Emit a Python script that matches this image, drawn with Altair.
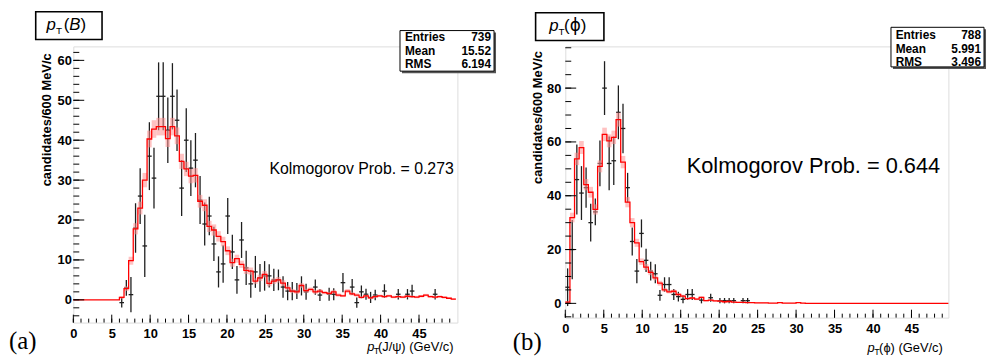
import altair as alt
import pandas as pd

FONT = "Liberation Sans"
BIN_W = 0.6

# ---------------- panel (a): pT(B) ----------------
A_MC = [0, 0, 0, 0, 0, 0, 0, 0, 0, 0,
        0.6, 2.8, 9.8, 17.8, 23.0, 30.0, 40.3, 42.8, 43.4, 43.4,
        40.4, 43.4, 41.1, 34.7, 32.8, 31.0, 31.2, 24.7, 23.7, 18.4,
        17.5, 15.9, 14.6, 12.3, 9.3, 10.3, 8.9, 7.4, 7.2, 4.7,
        5.5, 6.4, 4.1, 4.7, 5.0, 4.2, 3.0, 2.2, 2.0, 3.6,
        2.3, 2.6, 2.0, 2.2, 1.8, 1.6, 2.0, 1.2, 1.0, 2.2,
        1.5, 1.2, 0.6, 1.0, 0.5, 0.8, 1.0, 0.8, 1.0, 0.7,
        0.8, 0.7, 0.9, 0.8, 0.7, 0.9, 1.2, 0.8, 0.7, 0.8,
        0.6, 0.4, 0.2]
A_MC_ERR = [0, 0, 0, 0, 0, 0, 0, 0, 0, 0,
            0.3, 0.6, 1.0, 1.4, 1.6, 1.8, 2.1, 2.2, 2.2, 2.2,
            2.1, 2.2, 2.1, 1.9, 1.8, 1.8, 1.8, 1.6, 1.5, 1.4,
            1.4, 1.3, 1.2, 1.1, 1.0, 1.0, 0.9, 0.9, 0.9, 0.7,
            0.8, 0.8, 0.7, 0.7, 0.7, 0.7, 0.6, 0.5, 0.5, 0.6,
            0.5, 0.5, 0.5, 0.5, 0.4, 0.4, 0.5, 0.4, 0.3, 0.5,
            0.4, 0.4, 0.3, 0.3, 0.3, 0.3, 0.3, 0.3, 0.3, 0.3,
            0.3, 0.3, 0.3, 0.3, 0.3, 0.3, 0.3, 0.3, 0.3, 0.3,
            0.3, 0.2, 0.2]
A_X = [6.3, 6.9, 7.5, 8.1, 8.7, 9.3, 9.9, 10.5, 11.1, 11.7,
       12.3, 12.9, 13.5, 14.1, 14.7, 15.3, 15.9, 16.5, 17.1, 17.7,
       18.3, 18.9, 19.5, 20.1, 20.7, 21.3, 21.9, 22.5, 23.1, 23.7,
       24.3, 24.9, 25.5, 26.1, 26.7, 27.3, 27.9, 28.5, 29.1, 29.7,
       30.3, 31.5, 32.1, 33.3, 33.9, 35.1, 36.3, 36.9, 37.5, 38.1,
       38.7, 39.3, 40.5, 42.3, 43.5, 44.1, 47.1]
A_Y = [-0.7, 3.0, 1.3, 18, 26, 13.5, 36, 30.5, 51, 51,
       42.5, 51, 45, 28, 40, 33, 35, 25, 19, 21,
       14, 7, 9, 21, 12, 5, 15, 8, 4, 7,
       5.5, 6, 6, 5, 5, 3.2, 2.2, 2.2, 2.2, 3.5,
       2.0, 3.2, 1.2, 1.4, 1.4, 4.3, 3.2, -0.7, 2.0, 1.4,
       0.6, 1.2, 2.2, 1.4, 1.4, 2.2, 1.4]
A_ERR = [1.2, 2.0, 4.4, 6.2, 7.0, 7.8, 8.5, 7.6, 8.5, 8.5,
         8.2, 8.3, 7.7, 7.0, 8.0, 7.0, 6.8, 6.0, 5.4, 4.8,
         4.3, 3.9, 4.7, 4.5, 4.3, 3.5, 4.5, 4.3, 3.5, 4.0,
         3.5, 3.7, 2.9, 2.8, 2.6, 2.7, 2.3, 2.3, 2.0, 2.4,
         2.0, 1.9, 1.5, 1.6, 1.5, 2.4, 2.0, 1.3, 1.6, 1.4,
         1.4, 1.3, 1.7, 1.3, 1.3, 1.6, 1.3]
A_STATS = [("Entries", "739"), ("Mean", "15.52"), ("RMS", "6.194")]
A_KS = "Kolmogorov Prob. = 0.273"

# ---------------- panel (b): pT(phi) ----------------
B_MC = [0.5, 31.9, 53.7, 57.9, 44.1, 41.3, 34.9, 50.9, 62.8, 60.4,
        61.7, 68.3, 52.5, 37.6, 30.0, 22.5, 15.5, 13.5, 11.5, 9.5,
        7.5, 5.0, 4.3, 4.5, 3.3, 2.7, 1.8, 2.0, 1.6, 2.2,
        1.0, 1.2, 0.9, 0.8, 0.6, 0.7, 0.5, 0.4, 0.4, 0.3,
        0.3, 0.2, 0.2, 0.2, 0.1, 0.1, 0.3, 0.1, 0.1, 0.1,
        0.3, 0.1, 0, 0, 0, 0, 0, 0, 0, 0,
        0, 0, 0, 0, 0, 0, 0, 0, 0, 0,
        0, 0, 0, 0, 0, 0, 0, 0, 0, 0,
        0, 0, 0]
B_MC_ERR = [0.3, 1.8, 2.3, 2.4, 2.1, 2.0, 1.9, 2.2, 2.5, 2.4,
            2.5, 2.6, 2.3, 1.9, 1.7, 1.5, 1.2, 1.1, 1.0, 0.9,
            0.9, 0.7, 0.6, 0.6, 0.5, 0.5, 0.4, 0.4, 0.4, 0.4,
            0.3, 0.3, 0.3, 0.3, 0.3, 0.3, 0.2, 0.2, 0.2, 0.2,
            0.2, 0.2, 0.2, 0.2, 0.1, 0.1, 0.2, 0.1, 0.1, 0.1,
            0.2, 0.1, 0, 0, 0, 0, 0, 0, 0, 0,
            0, 0, 0, 0, 0, 0, 0, 0, 0, 0,
            0, 0, 0, 0, 0, 0, 0, 0, 0, 0,
            0, 0, 0]
B_X = [0.3, 0.9, 1.5, 2.1, 2.7, 3.3, 3.9, 4.5, 5.1, 5.7,
       6.3, 6.9, 7.5, 8.1, 8.7, 9.3, 9.9, 10.5, 11.1, 11.7,
       12.3, 12.9, 13.5, 14.1, 14.7, 15.3, 15.9, 16.5, 17.7, 18.9,
       20.1, 20.7, 21.3, 21.9, 23.1, 23.7]
B_Y = [6, 20, 46, 41, 43, 30, 34, 52, 80, 52,
       53, 71, 65, 43, 23, 12, 26, 16, 12, 11,
       3, 7, 7, 3.3, 2.5, 1.5, 3.3, 3.3, 1.2, 2.1,
       1, 1, 1, 1, 1, 1]
B_ERR = [7, 11, 13, 10, 7.5, 7, 5, 8.5, 10, 10,
         9, 10, 9.2, 5.5, 5.2, 4.5, 5.2, 4.3, 3.5, 3.5,
         2, 2.7, 2.7, 2, 1.8, 1.5, 2, 2, 1.2, 1.5,
         1, 1, 1, 1, 1, 1]
B_STATS = [("Entries", "788"), ("Mean", "5.991"), ("RMS", "3.496")]
B_KS = "Kolmogorov Prob. = 0.644"

# ---------------- axis tick values ----------------
X_MAJOR = [0, 5, 10, 15, 20, 25, 30, 35, 40, 45]
X_MINOR = list(range(0, 50))
A_Y_MAJOR = [0, 10, 20, 30, 40, 50, 60]
A_Y_MINOR = list(range(-4, 63, 2))
B_Y_MAJOR = [0, 20, 40, 60, 80]
B_Y_MINOR = list(range(-5, 96, 5))

ONE = alt.Data(values=[{"k": 0}])


def txt(t, x, y, size, align="left", baseline="alphabetic", font=FONT, **kw):
    return alt.Chart(ONE).mark_text(text=t, fontSize=size, font=font, align=align,
                                    baseline=baseline, color="black", **kw).encode(
        x=alt.value(x), y=alt.value(y))


def box(x1, x2, y1, y2, fill, stroke=None, sw=1):
    kw = dict(fill=fill)
    if stroke:
        kw.update(stroke=stroke, strokeWidth=sw)
    return alt.Chart(ONE).mark_rect(**kw).encode(
        x=alt.value(x1), x2=alt.value(x2), y=alt.value(y1), y2=alt.value(y2))


def panel(mc, mc_err, px, py, perr, xmax, ydom, W, H, ymaj, ymin, ylab_pad, annots):
    xs = alt.Scale(domain=[0, xmax], nice=False, zero=False)
    ys = alt.Scale(domain=ydom, nice=False, zero=False)
    xax = alt.Axis(values=X_MAJOR, ticks=False, tickSize=0, domain=False, grid=False,
                   title=None, labelPadding=5, labelFont=FONT, labelFontSize=13,
                   labelFontWeight="bold", labelColor="black", labelFlush=False, format="d")
    yax = alt.Axis(values=ymaj, ticks=False, tickSize=0, domain=False, grid=False,
                   title=None, labelPadding=ylab_pad, labelFont=FONT, labelFontSize=13,
                   labelFontWeight="bold", labelColor="black", labelFlush=False, format="d")

    def X(f):
        return alt.X(f + ":Q", scale=xs, axis=xax)

    def Y(f):
        return alt.Y(f + ":Q", scale=ys, axis=yax)

    n = len(mc)
    lo = [round(k * BIN_W, 4) for k in range(n)]
    hi = [round((k + 1) * BIN_W, 4) for k in range(n)]
    band = pd.DataFrame({"lo": lo, "hi": hi,
                         "a": [v - e for v, e in zip(mc, mc_err)],
                         "b": [v + e for v, e in zip(mc, mc_err)],
                         "e": mc_err})
    band = band[band.e > 0]
    step = pd.DataFrame({"x": lo + [hi[-1]], "y": list(mc) + [mc[-1]]})
    pts = pd.DataFrame({"x": px, "y": py,
                        "lo": [x - BIN_W / 2 for x in px],
                        "hi": [x + BIN_W / 2 for x in px],
                        "a": [y - e for y, e in zip(py, perr)],
                        "b": [y + e for y, e in zip(py, perr)]})

    layers = [
        alt.Chart(pts).mark_rule(color="#1e1e1e", strokeWidth=1.3).encode(
            x=X("x"), y=Y("a"), y2="b"),
        alt.Chart(pts).mark_rule(color="#1e1e1e", strokeWidth=1.3).encode(
            x=X("lo"), x2="hi", y=Y("y")),
        alt.Chart(band).mark_rect(color="#ff8f8f", opacity=0.55).encode(
            x=X("lo"), x2="hi", y=Y("a"), y2="b"),
        alt.Chart(step).mark_line(color="#ff0000", strokeWidth=1.3,
                                  interpolate="step-after").encode(x=X("x"), y=Y("y")),
        alt.Chart(pd.DataFrame({"v": X_MINOR})).mark_rule(color="black", strokeWidth=1).encode(
            x=X("v"), y=alt.value(H), y2=alt.value(H - 4)),
        alt.Chart(pd.DataFrame({"v": X_MAJOR})).mark_rule(color="black", strokeWidth=1).encode(
            x=X("v"), y=alt.value(H), y2=alt.value(H - 8)),
        alt.Chart(pd.DataFrame({"v": ymin})).mark_rule(color="black", strokeWidth=1).encode(
            y=Y("v"), x=alt.value(0), x2=alt.value(6)),
        alt.Chart(pd.DataFrame({"v": ymaj})).mark_rule(color="black", strokeWidth=1).encode(
            y=Y("v"), x=alt.value(0), x2=alt.value(11)),
    ]
    layers += annots
    return alt.layer(*layers).properties(width=W, height=H)


def stats(rows, x1, x2, y1, y2, tx, nx, ys_):
    out = [box(x1 + 2, x2 + 2, y1 + 2, y2 + 2, "#555555"),
           box(x1, x2, y1, y2, "white", "black", 1)]
    for (lab, val), yy in zip(rows, ys_):
        out.append(txt(lab, tx, yy, 12, baseline="middle", fontWeight="bold"))
        out.append(txt(val, nx, yy, 12, align="right", baseline="middle", fontWeight="bold"))
    return out


YTITLE = "candidates/600 MeV/c"

# annotations for panel (a), relative to its plot origin
a_ann = [box(-38, 29, -35, -7, "white", "black", 1.6),
         txt("p", -27, -17, 17, fontStyle="italic"),
         txt("T", -17.5, -13, 10),
         txt("(", -9.7, -17, 17),
         txt("B", -4.0, -17, 17, fontStyle="italic"),
         txt(")", 7.3, -17, 17)]
a_ann += stats(A_STATS, 330, 425, -16, 25, 335, 422, [-9.7, 4.3, 18])
a_ann += [txt(YTITLE, -26.3, 7, 13, align="right", baseline="middle", angle=270,
              fontWeight="bold"),
          txt("p", 297, 308, 13, fontStyle="italic"),
          txt("T", 303.5, 311, 9),
          txt("(J/\u03c8) (GeV/c)", 307.7, 308, 13),
          txt(A_KS, 384.3, 128.7, 16, align="right"),
          txt("(a)", -65, 306, 25, font="Liberation Serif")]

# annotations for panel (b)
b_ann = [box(-30, 39, -34, -6, "white", "black", 1.6),
         txt("p", -16.3, -16, 17, fontStyle="italic"),
         txt("T", -7, -12, 10),
         txt("(", -1.3, -16, 17),
         txt("\u03d5", 10, -16, 17, align="center", font="DejaVu Sans"),
         txt(")", 15.6, -16, 17)]
b_ann += stats(B_STATS, 329, 423, -19.3, 20.7, 333.7, 420, [-11.3, 2.2, 15.7])
b_ann += [txt(YTITLE, -28, 4.7, 13, align="right", baseline="middle", angle=270,
              fontWeight="bold"),
          txt("p", 305.3, 309, 13, fontStyle="italic"),
          txt("T", 312, 312, 9),
          txt("(\u03d5) (GeV/c)", 317, 309, 13),
          txt(B_KS, 378.7, 128, 22, align="right"),
          txt("(b)", -53, 307, 25, font="Liberation Serif")]

left = panel(A_MC, A_MC_ERR, A_X, A_Y, A_ERR, 50, [-5.7, 63.5], 388, 279,
             A_Y_MAJOR, A_Y_MINOR, 2, a_ann)
right = panel(B_MC, B_MC_ERR, B_X, B_Y, B_ERR, 49.8, [-5.3, 95.5], 387, 274,
              B_Y_MAJOR, B_Y_MINOR, 4.5, b_ann)

chart = alt.hconcat(left, right, spacing=15, padding=0).configure_view(
    stroke="black", strokeWidth=1.2).configure(background="white")

chart.save("out.html", embed_options={"renderer": "svg", "actions": False})
